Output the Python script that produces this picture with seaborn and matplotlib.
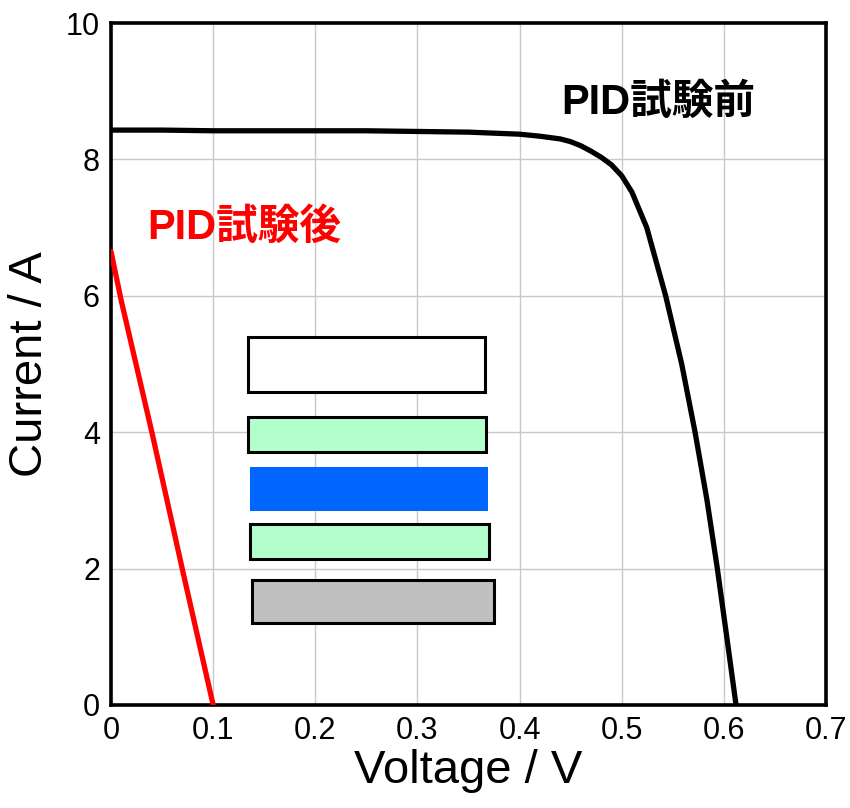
import matplotlib
matplotlib.use("Agg")
import matplotlib.pyplot as plt
import seaborn as sns
from matplotlib.patches import Rectangle

# I-V curve before PID test
v_before = [0.0, 0.05, 0.10, 0.15, 0.20, 0.25, 0.30, 0.35, 0.40, 0.42, 0.44, 0.45,
            0.46, 0.47, 0.48, 0.49, 0.50, 0.51, 0.5245, 0.543, 0.5587, 0.5718,
            0.5835, 0.5936, 0.6028, 0.6119]
i_before = [8.43, 8.43, 8.42, 8.42, 8.42, 8.42, 8.41, 8.40, 8.37, 8.34, 8.30, 8.26,
            8.20, 8.12, 8.03, 7.92, 7.76, 7.52, 7.00, 6.00, 5.00, 4.00,
            3.00, 2.00, 1.00, 0.00]

# I-V curve after PID test
v_after = [0.0, 0.01, 0.04, 0.07, 0.10]
i_after = [6.65, 5.93, 4.00, 1.98, 0.00]

label_before = "PID試験前"
label_after = "PID試験後"

# module cross-section sketch (layers, top to bottom)
layer_x0 = [0.134, 0.134, 0.136, 0.1365, 0.138]
layer_x1 = [0.366, 0.367, 0.369, 0.370, 0.375]
layer_y0 = [4.59, 3.71, 2.85, 2.14, 1.20]
layer_y1 = [5.39, 4.23, 3.49, 2.66, 1.84]
layer_colors = ["#ffffff", "#b3ffcc", "#0066ff", "#b3ffcc", "#c0c0c0"]
layer_edges = [True, True, False, True, True]

sns.set_style("white")
plt.rcParams['font.family'] = ['Liberation Sans', 'Noto Sans CJK JP', 'DejaVu Sans']
plt.rcParams['text.color'] = 'black'
plt.rcParams['axes.labelcolor'] = 'black'
plt.rcParams['xtick.color'] = 'black'
plt.rcParams['ytick.color'] = 'black'

fig = plt.figure(figsize=(8.5, 8.08), dpi=100)
ax = fig.add_axes([0.1306, 0.1275, 0.8412, 0.844])

ax.grid(True, which='major', color='#c8c8c8', lw=1.0)
ax.set_axisbelow(True)

for x0, x1, y0, y1, c, e in zip(layer_x0, layer_x1, layer_y0, layer_y1, layer_colors, layer_edges):
    ax.add_patch(Rectangle((x0, y0), x1 - x0, y1 - y0, facecolor=c,
                           edgecolor='black' if e else 'none', lw=2.2, zorder=2))

sns.lineplot(x=v_before, y=i_before, color='black', lw=3.8, ax=ax, zorder=3)
sns.lineplot(x=v_after, y=i_after, color='#ff0000', lw=3.8, ax=ax, zorder=3)

ax.text(0.4406, 8.83, label_before, color='black', fontsize=30, fontweight='bold',
        family=['Liberation Sans', 'Noto Sans CJK JP'], va='center', ha='left')
ax.text(0.0352, 6.99, label_after, color='#ff0000', fontsize=30, fontweight='bold',
        family=['Liberation Sans', 'Noto Sans CJK JP'], va='center', ha='left')

ax.set_xlim(0, 0.7)
ax.set_ylim(0, 10)
ax.set_xticks([0, 0.1, 0.2, 0.3, 0.4, 0.5, 0.6, 0.7])
ax.set_xticklabels(['0', '0.1', '0.2', '0.3', '0.4', '0.5', '0.6', '0.7'])
ax.set_yticks([0, 2, 4, 6, 8, 10])
ax.set_yticks([1, 3, 5, 7, 9], minor=True)
ax.tick_params(axis='both', which='major', direction='in', length=9, width=2.2,
               labelsize=22, pad=8, colors='black')
ax.tick_params(axis='y', which='minor', direction='in', length=5, width=2.2, colors='black')

for s in ax.spines.values():
    s.set_linewidth(2.6)
    s.set_color('black')

ax.set_xlabel('Voltage / V', fontsize=34, labelpad=2)
ax.set_ylabel('Current / A', fontsize=34, labelpad=10)

fig.savefig('out.png', dpi=100)
